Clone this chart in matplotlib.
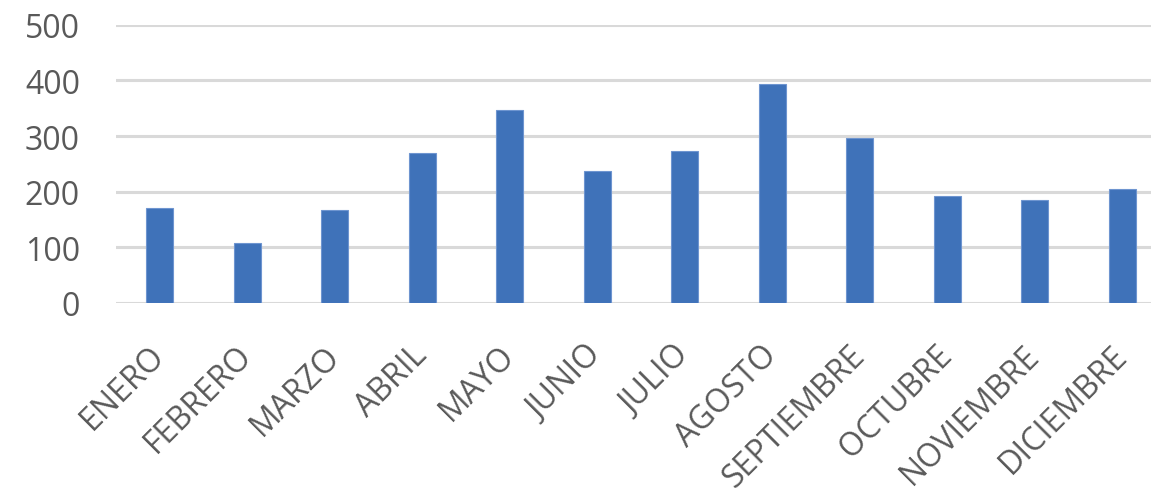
import matplotlib.pyplot as plt

months = ['ENERO', 'FEBRERO', 'MARZO', 'ABRIL', 'MAYO', 'JUNIO', 'JULIO',
          'AGOSTO', 'SEPTIEMBRE', 'OCTUBRE', 'NOVIEMBRE', 'DICIEMBRE']
values = [170, 108, 167, 269, 347, 238, 273, 394, 297, 192, 185, 205]
y_ticks = [0, 100, 200, 300, 400, 500]

plt.rcParams['font.family'] = ['Open Sans', 'DejaVu Sans']

fig = plt.figure(figsize=(11.51, 4.89), dpi=100)
ax = fig.add_axes([116 / 1151, 185 / 489, 1050 / 1151, 278.3 / 489])

x = range(len(months))
ax.bar(x, values, width=0.31, color='#3F72B9', edgecolor='#6E95D0',
       linewidth=0.8, zorder=3)

ax.set_xlim(-0.5, len(months) - 0.5)
ax.set_ylim(0, 500)
ax.set_yticks(y_ticks)
ax.yaxis.grid(True, color='#D9D9D9', linewidth=2.2, zorder=0)
for s in ax.spines.values():
    s.set_visible(False)

ax.tick_params(axis='y', length=0, pad=26, labelsize=23, labelcolor='#595959')
ax.tick_params(axis='x', length=0, pad=34, labelsize=23, labelcolor='#595959')
ax.set_xticks(list(x))
ax.set_xticklabels(months, rotation=45, ha='right', va='center',
                   rotation_mode='anchor')

fig.savefig('out.png', dpi=100)
